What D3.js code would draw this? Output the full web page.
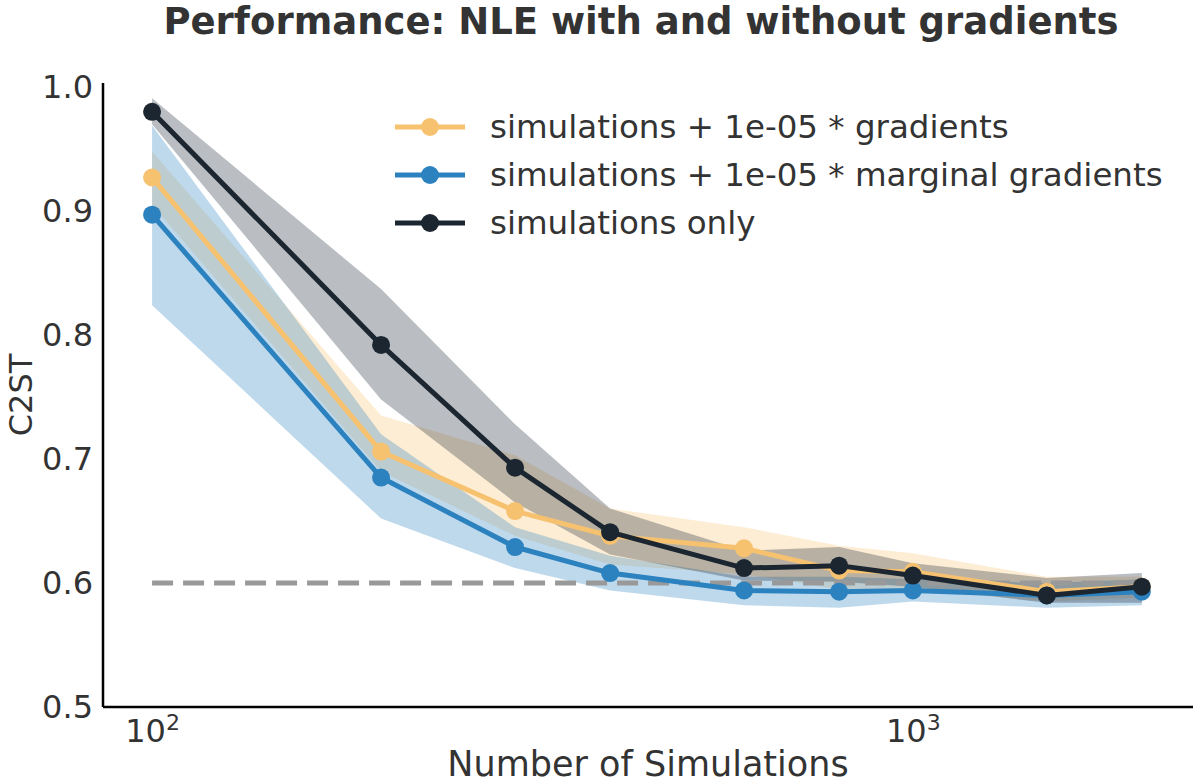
<!DOCTYPE html>
<html>
<head>
<meta charset="utf-8">
<script src="https://cdn.jsdelivr.net/npm/d3@7"></script>
<style>
  body { margin: 0; background: #fff; }
  svg { display: block; font-family: "DejaVu Sans", sans-serif; }
</style>
</head>
<body>
<svg id="chart" width="1200" height="784"></svg>
<script>
// number of simulations (x, log scale)
const nSims = [100, 200, 300, 400, 600, 800, 1000, 1500, 2000];

// simulations + 1e-05 * gradients
const gradMean = [0.927, 0.706, 0.658, 0.638, 0.628, 0.610, 0.609, 0.593, 0.597];
const gradLo   = [0.905, 0.690, 0.638, 0.615, 0.607, 0.595, 0.595, 0.585, 0.588];
const gradHi   = [0.948, 0.735, 0.703, 0.660, 0.645, 0.630, 0.624, 0.605, 0.605];

// simulations + 1e-05 * marginal gradients
const margMean = [0.897, 0.685, 0.629, 0.608, 0.594, 0.593, 0.594, 0.590, 0.593];
const margLo   = [0.824, 0.652, 0.612, 0.594, 0.582, 0.580, 0.585, 0.580, 0.582];
const margHi   = [0.969, 0.720, 0.645, 0.622, 0.605, 0.605, 0.603, 0.600, 0.603];

// simulations only
const simMean = [0.980, 0.792, 0.693, 0.641, 0.612, 0.614, 0.606, 0.590, 0.597];
const simLo   = [0.970, 0.748, 0.665, 0.623, 0.602, 0.601, 0.597, 0.584, 0.584];
const simHi   = [0.991, 0.837, 0.728, 0.660, 0.626, 0.629, 0.616, 0.604, 0.608];

const seriesNames = [
  "simulations + 1e-05 * gradients",
  "simulations + 1e-05 * marginal gradients",
  "simulations only"
];
const seriesColors = ["#f7c270", "#2c82bf", "#1b2631"];

const yTicks = [0.5, 0.6, 0.7, 0.8, 0.9, 1.0];
const xTicks = [100, 1000];
const referenceLevel = 0.6;

const series = [
  { mean: gradMean, lo: gradLo, hi: gradHi },
  { mean: margMean, lo: margLo, hi: margHi },
  { mean: simMean, lo: simLo, hi: simHi }
];

const svg = d3.select("#chart");
const textColor = "#333333";

// plot area
const plotLeft = 103, plotRight = 1193, plotTop = 83, plotBottom = 707;

const x = d3.scaleLog()
  .domain([86.2, 2335])
  .range([plotLeft, plotRight]);

const y = d3.scaleLinear()
  .domain([0.5, 1.0032])
  .range([plotBottom, plotTop]);

// bands
series.forEach((s, i) => {
  const area = d3.area()
    .x((d, j) => x(nSims[j]))
    .y0((d, j) => y(s.lo[j]))
    .y1((d, j) => y(s.hi[j]));
  svg.append("path")
    .attr("d", area(nSims))
    .attr("fill", seriesColors[i])
    .attr("fill-opacity", 0.3);
});

// reference line
svg.append("line")
  .attr("x1", x(nSims[0]))
  .attr("x2", x(nSims[nSims.length - 1]))
  .attr("y1", y(referenceLevel))
  .attr("y2", y(referenceLevel))
  .attr("stroke", "#999999")
  .attr("stroke-width", 5)
  .attr("stroke-dasharray", "21 10");

// lines + markers
series.forEach((s, i) => {
  const line = d3.line()
    .x((d, j) => x(nSims[j]))
    .y(d => y(d));
  svg.append("path")
    .attr("d", line(s.mean))
    .attr("fill", "none")
    .attr("stroke", seriesColors[i])
    .attr("stroke-width", 5)
    .attr("stroke-linejoin", "round");
  svg.selectAll(null)
    .data(s.mean)
    .enter()
    .append("circle")
    .attr("cx", (d, j) => x(nSims[j]))
    .attr("cy", d => y(d))
    .attr("r", 9)
    .attr("fill", seriesColors[i]);
});

// axes
const yAxis = d3.axisLeft(y)
  .tickValues(yTicks)
  .tickSize(0)
  .tickPadding(10)
  .tickFormat(d3.format(".1f"));
const gy = svg.append("g")
  .attr("transform", `translate(${plotLeft},0)`)
  .call(yAxis);
gy.select(".domain").attr("stroke", "#000").attr("stroke-width", 2.5)
  .attr("d", `M0,${plotTop}V${plotBottom}`);
gy.selectAll("text")
  .attr("font-size", 32)
  .attr("fill", textColor)
  .attr("font-family", "DejaVu Sans");

const xAxis = d3.axisBottom(x)
  .tickValues(xTicks)
  .tickSize(0)
  .tickFormat("");
const gx = svg.append("g")
  .attr("transform", `translate(0,${plotBottom})`)
  .call(xAxis);
gx.select(".domain").attr("stroke", "#000").attr("stroke-width", 2.5)
  .attr("d", `M${plotLeft},0H${plotRight}`);
gx.selectAll(".tick").each(function(d) {
  const t = d3.select(this).append("text")
    .attr("y", 35)
    .attr("text-anchor", "middle")
    .attr("fill", textColor)
    .attr("font-size", 32)
    .attr("font-family", "DejaVu Sans");
  t.append("tspan").text("10");
  t.append("tspan").attr("dy", -12).attr("font-size", 22).text(Math.round(Math.log10(d)));
});

// axis labels
svg.append("text")
  .attr("x", (plotLeft + plotRight) / 2)
  .attr("y", 776)
  .attr("text-anchor", "middle")
  .attr("font-size", 35)
  .attr("fill", textColor)
  .text("Number of Simulations");

svg.append("text")
  .attr("transform", `translate(32,${(plotTop + plotBottom) / 2}) rotate(-90)`)
  .attr("text-anchor", "middle")
  .attr("font-size", 32)
  .attr("fill", textColor)
  .text("C2ST");

// title
svg.append("text")
  .attr("x", 641)
  .attr("y", 34)
  .attr("text-anchor", "middle")
  .attr("font-size", 37)
  .attr("font-weight", "bold")
  .attr("fill", textColor)
  .text("Performance: NLE with and without gradients");

// legend
const legend = svg.append("g");
seriesNames.forEach((name, i) => {
  const ly = 127 + i * 48;
  legend.append("line")
    .attr("x1", 395).attr("x2", 465)
    .attr("y1", ly).attr("y2", ly)
    .attr("stroke", seriesColors[i])
    .attr("stroke-width", 5);
  legend.append("circle")
    .attr("cx", 430).attr("cy", ly).attr("r", 9)
    .attr("fill", seriesColors[i]);
  legend.append("text")
    .attr("x", 490).attr("y", ly)
    .attr("dy", "0.35em")
    .attr("font-size", 32.5)
    .attr("fill", textColor)
    .text(name);
});
</script>
</body>
</html>
